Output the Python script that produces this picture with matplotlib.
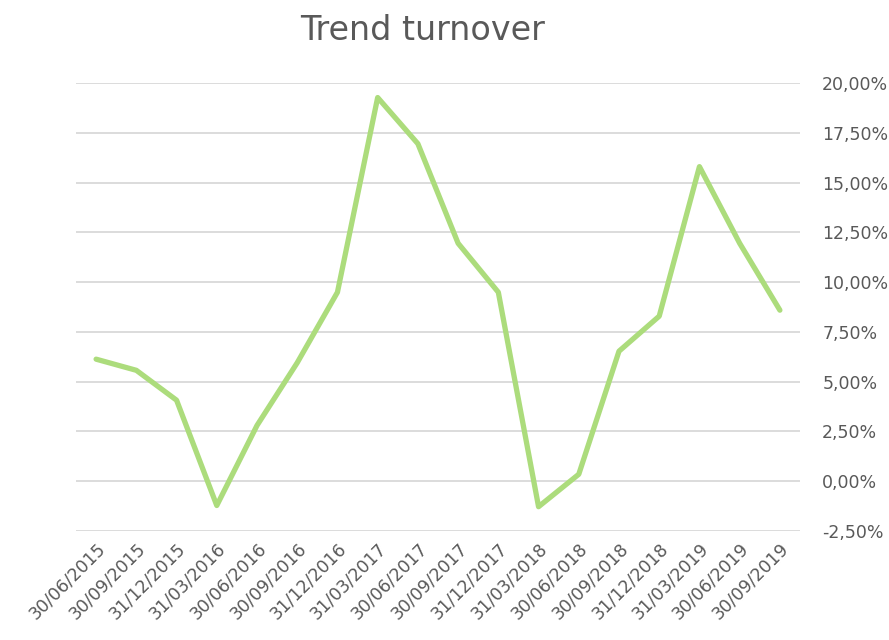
import matplotlib.pyplot as plt
from matplotlib.ticker import FuncFormatter

# Quarter-end dates and turnover trend (in %)
dates = ['30/06/2015', '30/09/2015', '31/12/2015', '31/03/2016', '30/06/2016',
         '30/09/2016', '31/12/2016', '31/03/2017', '30/06/2017', '30/09/2017',
         '31/12/2017', '31/03/2018', '30/06/2018', '30/09/2018', '31/12/2018',
         '31/03/2019', '30/06/2019', '30/09/2019']
turnover = [6.13, 5.57, 4.07, -1.22, 2.80, 5.95, 9.49, 19.27, 16.95, 11.95,
            9.49, -1.28, 0.35, 6.53, 8.29, 15.80, 11.95, 8.59]
y_ticks = [-2.5, 0, 2.5, 5, 7.5, 10, 12.5, 15, 17.5, 20]

text_color = '#595959'

fig = plt.figure(figsize=(8.89, 6.40), dpi=100)
ax = fig.add_axes([76 / 889, 109 / 640, 724 / 889, 448 / 640])

x = list(range(len(dates)))
ax.plot(x, turnover, color='#acdc7c', linewidth=3.8, solid_joinstyle='round',
        solid_capstyle='round', zorder=3)

ax.set_xlim(-0.5, len(dates) - 0.5)
ax.set_ylim(-2.5, 20)
ax.set_yticks(y_ticks)
ax.yaxis.set_major_formatter(FuncFormatter(lambda v, p: f'{v:.2f}%'.replace('.', ',')))
ax.yaxis.tick_right()
ax.grid(axis='y', color='#d9d9d9', linewidth=1.3, zorder=0)

ax.set_xticks(x)
ax.set_xticklabels(dates, rotation=45, ha='right', rotation_mode='anchor')

for side in ['top', 'right', 'left', 'bottom']:
    ax.spines[side].set_visible(False)
ax.tick_params(axis='both', length=0, colors=text_color, labelsize=12.5)
ax.tick_params(axis='y', pad=16)
ax.tick_params(axis='x', pad=6)

fig.suptitle('Trend turnover', x=423 / 889, y=0.978, va='top', fontsize=24,
             color=text_color)

fig.savefig('out.png', dpi=100)
